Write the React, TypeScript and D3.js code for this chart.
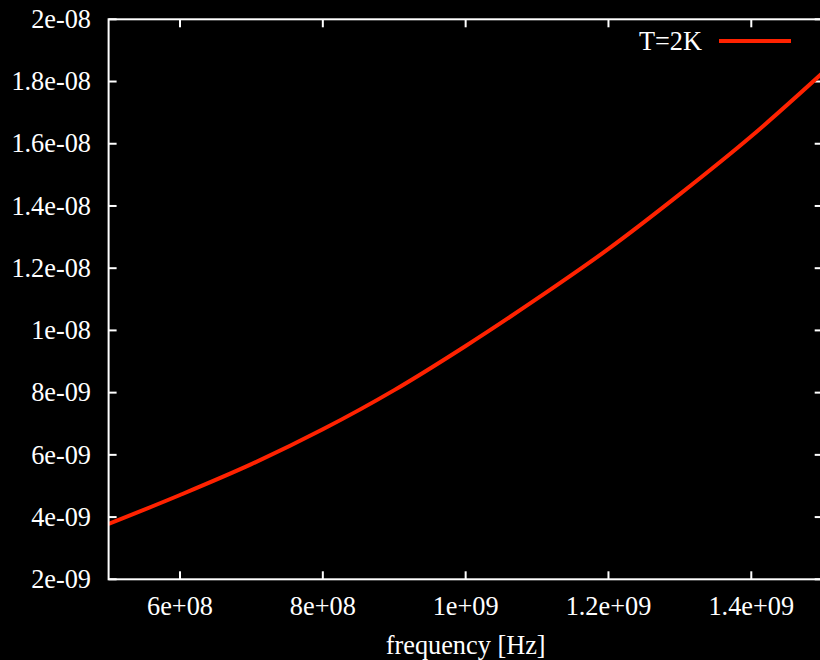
import React from 'react';
import * as d3 from 'd3';

// frequency samples [Hz] and spectral values
const freqs = [5e8, 6e8, 7e8, 8e8, 9e8, 1e9, 1.1e9, 1.2e9, 1.3e9, 1.4e9, 1.5e9];
const values = [3.78e-9, 4.71e-9, 5.70e-9, 6.82e-9, 8.08e-9, 9.50e-9, 11.02e-9, 12.62e-9, 14.38e-9, 16.24e-9, 18.28e-9];

const xTicks = [6e8, 8e8, 1e9, 1.2e9, 1.4e9];
const xTickLabels = ['6e+08', '8e+08', '1e+09', '1.2e+09', '1.4e+09'];
const yTicks = [2e-9, 4e-9, 6e-9, 8e-9, 1e-8, 1.2e-8, 1.4e-8, 1.6e-8, 1.8e-8, 2e-8];
const yTickLabels = ['2e-09', '4e-09', '6e-09', '8e-09', '1e-08', '1.2e-08', '1.4e-08', '1.6e-08', '1.8e-08', '2e-08'];

const seriesName = 'T=2K';
const xTitle = 'frequency [Hz]';

const width = 820;
const height = 660;
const left = 108.6;
const right = 822.7;
const top = 19.3;
const bottom = 579.3;
const font = '"Liberation Serif", "Times New Roman", serif';
const fontSize = 26.3;
const red = '#ff2200';

export default function App() {
  const x = d3.scaleLinear().domain([5e8, 1.5e9]).range([left, right]);
  const y = d3.scaleLinear().domain([2e-9, 2e-8]).range([bottom, top]);

  const data = freqs.map((f, i) => [f, values[i]] as [number, number]);
  const line = d3.line<[number, number]>()
    .x(d => x(d[0]))
    .y(d => y(d[1]))
    .curve(d3.curveCatmullRom);

  const tickLen = 8;

  return (
    <svg width={width} height={height} style={{ position: 'absolute', left: 0, top: 0 }}>
      <rect x={0} y={0} width={width} height={height} fill="black" />

      <defs>
        <clipPath id="plot">
          <rect x={left} y={top} width={right - left} height={bottom - top} />
        </clipPath>
      </defs>

      {/* ticks, mirrored on all sides */}
      {xTicks.map((t, i) => (
        <g key={'x' + i}>
          <line x1={x(t)} x2={x(t)} y1={bottom} y2={bottom - tickLen} stroke="white" strokeWidth={2} />
          <line x1={x(t)} x2={x(t)} y1={top} y2={top + tickLen} stroke="white" strokeWidth={2} />
          <text x={x(t)} y={615} fill="white" fontFamily={font} fontSize={fontSize} textAnchor="middle">
            {xTickLabels[i]}
          </text>
        </g>
      ))}
      {yTicks.map((t, i) => (
        <g key={'y' + i}>
          <line x1={left} x2={left + tickLen} y1={y(t)} y2={y(t)} stroke="white" strokeWidth={2} />
          <line x1={right} x2={right - tickLen} y1={y(t)} y2={y(t)} stroke="white" strokeWidth={2} />
          <text x={91} y={y(t)} dy="0.33em" fill="white" fontFamily={font} fontSize={fontSize} textAnchor="end">
            {yTickLabels[i]}
          </text>
        </g>
      ))}

      <path d={line(data) ?? ''} fill="none" stroke={red} strokeWidth={4} clipPath="url(#plot)" />

      <rect x={left} y={top} width={right - left} height={bottom - top} fill="none" stroke="white" strokeWidth={2} />

      {/* legend */}
      <text x={702} y={50} fill="white" fontFamily={font} fontSize={fontSize} textAnchor="end">{seriesName}</text>
      <line x1={719} x2={791} y1={41} y2={41} stroke={red} strokeWidth={4} />

      <text x={(left + right) / 2} y={654} fill="white" fontFamily={font} fontSize={fontSize} textAnchor="middle">
        {xTitle}
      </text>
    </svg>
  );
}
